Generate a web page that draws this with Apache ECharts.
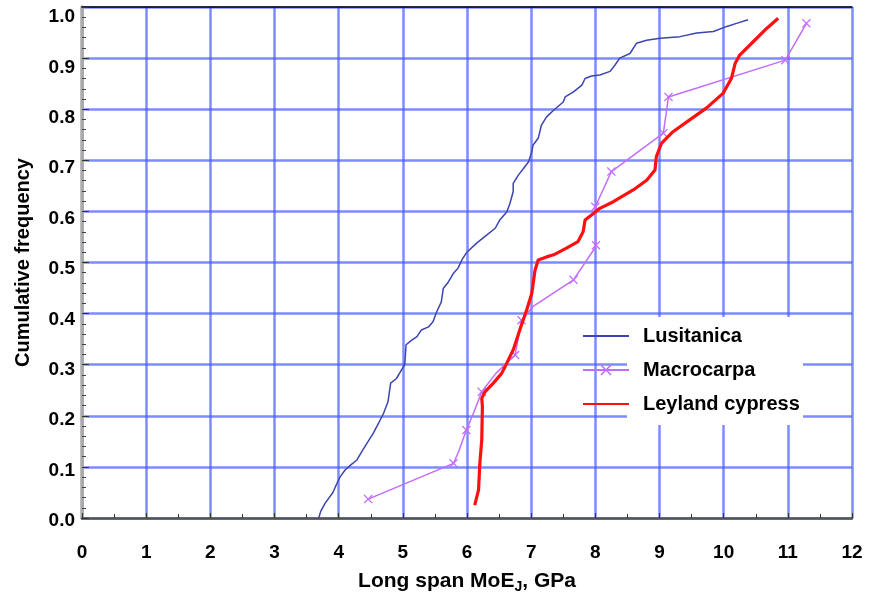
<!DOCTYPE html>
<html>
<head>
<meta charset="utf-8">
<script src="https://cdn.jsdelivr.net/npm/echarts@6/dist/echarts.min.js"></script>
<style>
  html, body { margin: 0; padding: 0; background: #fff; }
  #chart { width: 872px; height: 599px; }
</style>
</head>
<body>
<div id="chart"></div>
<script>
// cumulative frequency curves
var lusX = [3.69, 3.72, 3.79, 3.91, 3.97, 4.02, 4.10, 4.19, 4.28, 4.36, 4.44, 4.54, 4.62, 4.70, 4.77, 4.81, 4.90, 4.98, 5.03, 5.05,
            5.14, 5.22, 5.29, 5.40, 5.47, 5.53, 5.60, 5.63, 5.71, 5.79, 5.86, 5.92, 5.99, 6.15, 6.31, 6.44, 6.51, 6.62, 6.67, 6.72,
            6.72, 6.80, 6.88, 6.96, 7.01, 7.03, 7.11, 7.16, 7.24, 7.35, 7.50, 7.53, 7.66, 7.79, 7.84, 7.94, 8.07, 8.23, 8.31, 8.38,
            8.54, 8.64, 8.80, 9.01, 9.32, 9.58, 9.84, 10.05, 10.20, 10.38];
var lusY = [0.0, 0.013, 0.029, 0.05, 0.067, 0.08, 0.094, 0.104, 0.113, 0.13, 0.146, 0.166, 0.185, 0.205, 0.228, 0.264, 0.273, 0.29, 0.30, 0.339,
            0.348, 0.355, 0.368, 0.374, 0.384, 0.404, 0.423, 0.449, 0.462, 0.479, 0.489, 0.505, 0.519, 0.538, 0.554, 0.567, 0.583, 0.599, 0.616, 0.639,
            0.655, 0.671, 0.684, 0.697, 0.717, 0.730, 0.743, 0.769, 0.785, 0.798, 0.814, 0.824, 0.834, 0.847, 0.860, 0.865, 0.867, 0.874, 0.887, 0.90,
            0.909, 0.929, 0.935, 0.939, 0.942, 0.949, 0.952, 0.962, 0.968, 0.975];

var macX = [4.46, 5.79, 5.87, 5.99, 6.10, 6.23, 6.45, 6.75, 6.85, 7.03, 7.66, 7.97, 8.01, 8.00, 8.25, 9.06, 9.14, 10.96, 11.29];
var macY = [0.037, 0.107, 0.13, 0.172, 0.205, 0.247, 0.283, 0.319, 0.387, 0.414, 0.466, 0.524, 0.534, 0.609, 0.678, 0.753, 0.824, 0.896, 0.968];
var macMark = [1, 1, 0, 1, 0, 1, 0, 1, 1, 0, 1, 0, 1, 1, 1, 1, 1, 1, 1];

var leyX = [6.12, 6.18, 6.20, 6.23, 6.24, 6.23, 6.28, 6.41, 6.54, 6.62, 6.72, 6.83, 6.93, 7.01, 7.06, 7.11, 7.24, 7.35, 7.55, 7.73,
            7.81, 7.84, 7.97, 8.07, 8.28, 8.59, 8.80, 8.93, 8.95, 9.03, 9.21, 9.47, 9.73, 9.99, 10.12, 10.18, 10.25, 10.46, 10.67, 10.85];
var leyY = [0.025, 0.055, 0.107, 0.153, 0.218, 0.234, 0.247, 0.264, 0.283, 0.303, 0.329, 0.371, 0.407, 0.44, 0.485, 0.505, 0.511, 0.515, 0.528, 0.541,
            0.560, 0.583, 0.596, 0.606, 0.619, 0.642, 0.661, 0.681, 0.707, 0.733, 0.756, 0.779, 0.802, 0.831, 0.860, 0.89, 0.906, 0.932, 0.958, 0.978];

var seriesNames = ['Lusitanica', 'Macrocarpa', 'Leyland cypress'];

function pairs(xs, ys) {
    return xs.map(function (x, i) { return [x, ys[i]]; });
}

var macData = macX.map(function (x, i) {
    return macMark[i] ? { value: [x, macY[i]] } : { value: [x, macY[i]], symbol: 'none' };
});

var font = "'Liberation Sans', Arial, Helvetica, sans-serif";
var crossPath = 'path://M0,1L1,0L5,4L9,0L10,1L6,5L10,9L9,10L5,6L1,10L0,9L4,5Z';
var gridColor = 'rgba(70,90,255,0.7)';

var myChart = echarts.init(document.getElementById('chart'));
var option = {
    animation: false,
    backgroundColor: '#fff',
    textStyle: { fontFamily: font },
    grid: [
        { left: 82, right: 20, top: 7, bottom: 81, outerBoundsMode: 'none' },
        // label-only grid, the tick labels sit a little lower than the lines
        { left: 82, right: 20, top: 17, bottom: 78, outerBoundsMode: 'none' }
    ],
    graphic: [
        { type: 'rect', z: 1, shape: { x: 627, y: 317, width: 176, height: 108 }, style: { fill: '#fff' } }
    ],
    legend: {
        orient: 'vertical',
        left: 577,
        top: 321,
        itemWidth: 46,
        itemHeight: 14,
        itemGap: 14,
        data: [
            { name: seriesNames[0], itemStyle: { opacity: 0 } },
            { name: seriesNames[1] },
            { name: seriesNames[2], itemStyle: { opacity: 0 } }
        ],
        textStyle: { fontFamily: font, fontSize: 20, fontWeight: 'bold', color: '#000', padding: [0, 0, 0, 9] }
    },
    xAxis: [
        {
            type: 'value',
            gridIndex: 0,
            min: 0, max: 12, interval: 1,
            name: '{a|Long span MoE}{s|J}{a|, GPa}',
            nameLocation: 'middle',
            nameGap: 50,
            nameTextStyle: {
                rich: {
                    a: { fontFamily: font, fontSize: 21, fontWeight: 'bold', color: '#000' },
                    s: { fontFamily: font, fontSize: 14, fontWeight: 'bold', color: '#000', padding: [12, 0, 0, 0] }
                }
            },
            axisLine: { lineStyle: { color: '#555', width: 2.5 } },
            axisTick: { inside: true, length: 5, lineStyle: { color: '#333' } },
            minorTick: { show: true, splitNumber: 2, length: 4, lineStyle: { color: '#333' } },
            axisLabel: { fontFamily: font, fontSize: 19, fontWeight: 'bold', color: '#000', margin: 25 },
            splitLine: { show: true, lineStyle: { color: gridColor, width: 2.5 } }
        },
        {
            type: 'value',
            gridIndex: 0,
            position: 'top',
            min: 0, max: 12,
            axisLine: { lineStyle: { color: '#000', width: 1.5 } },
            axisTick: { show: false },
            axisLabel: { show: false },
            splitLine: { show: false }
        },
        { type: 'value', gridIndex: 1, min: 0, max: 12, show: false }
    ],
    yAxis: [
        {
            type: 'value',
            gridIndex: 0,
            min: 0, max: 1, interval: 0.1,
            name: 'Cumulative frequency',
            nameLocation: 'middle',
            nameGap: 49,
            nameTextStyle: { fontFamily: font, fontSize: 20, fontWeight: 'bold', color: '#000' },
            axisLine: { show: true, lineStyle: { color: '#aaa', width: 3.5 } },
            axisTick: { inside: true, length: 7, lineStyle: { color: '#333' } },
            minorTick: { show: true, splitNumber: 5, length: 4, lineStyle: { color: '#444' } },
            axisLabel: { show: false },
            splitLine: { show: true, lineStyle: { color: gridColor, width: 2.5 } }
        },
        {
            type: 'value',
            gridIndex: 1,
            min: 0, max: 1, interval: 0.1,
            axisLine: { show: false },
            axisTick: { show: false },
            splitLine: { show: false },
            axisLabel: {
                fontFamily: font, fontSize: 19, fontWeight: 'bold', color: '#000', margin: 7,
                formatter: function (v) { return v.toFixed(1); }
            }
        }
    ],
    series: [
        {
            name: seriesNames[0],
            type: 'line',
            symbol: 'none',
            z: 3,
            lineStyle: { color: '#3b44b0', width: 1.5 },
            itemStyle: { color: '#3b44b0' },
            data: pairs(lusX, lusY)
        },
        {
            name: seriesNames[1],
            type: 'line',
            symbol: crossPath,
            symbolSize: 9,
            z: 3,
            lineStyle: { color: '#c36cff', width: 1.5 },
            itemStyle: { color: '#c36cff' },
            data: macData
        },
        {
            name: seriesNames[2],
            type: 'line',
            symbol: 'none',
            z: 4,
            lineStyle: { color: '#ff1010', width: 3.2 },
            itemStyle: { color: '#ff1010' },
            data: pairs(leyX, leyY)
        }
    ]
};
myChart.setOption(option);
</script>
</body>
</html>
